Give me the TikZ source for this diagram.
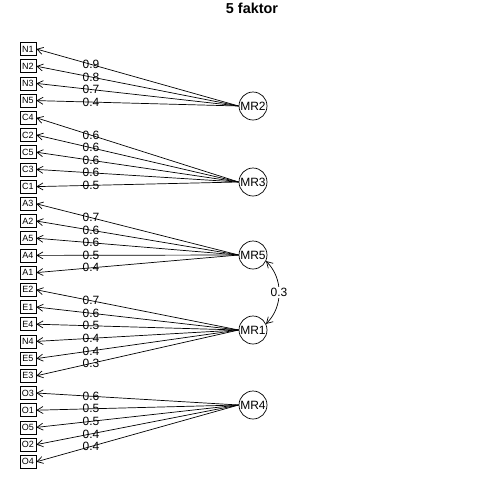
\documentclass[tikz,border=0pt]{standalone}
\usepackage{fontspec}
\setmainfont{Liberation Sans}
\usetikzlibrary{arrows.meta}
\tikzset{
  var/.style={draw,line width=0.7pt,minimum width=16pt,minimum height=13pt,inner sep=1pt,font=\fontsize{9}{9}\selectfont},
  fac/.style={draw,line width=0.7pt,circle,minimum size=28pt,inner sep=0pt,font=\fontsize{12}{12}\selectfont},
  load/.style={pos=0.73,font=\fontsize{12}{12}\selectfont,inner sep=0pt}
}
\begin{document}
\begin{tikzpicture}[x=1pt,y=-1pt,>={Straight Barb[length=6pt,width=7pt]},line width=0.7pt]
	\useasboundingbox (0,0) rectangle (504,504);

	\node[font=\bfseries\fontsize{14.4}{16}\selectfont] (title) at (252,8) {5 faktor};

	% variables
	\node[var] (N1) at (28,49.0)  {N1};
	\node[var] (N2) at (28,66.2)  {N2};
	\node[var] (N3) at (28,83.4)  {N3};
	\node[var] (N5) at (28,100.6) {N5};
	\node[var] (C4) at (28,117.8) {C4};
	\node[var] (C2) at (28,135.0) {C2};
	\node[var] (C5) at (28,152.2) {C5};
	\node[var] (C3) at (28,169.4) {C3};
	\node[var] (C1) at (28,186.6) {C1};
	\node[var] (A3) at (28,203.8) {A3};
	\node[var] (A2) at (28,221.0) {A2};
	\node[var] (A5) at (28,238.2) {A5};
	\node[var] (A4) at (28,255.4) {A4};
	\node[var] (A1) at (28,272.6) {A1};
	\node[var] (E2) at (28,289.8) {E2};
	\node[var] (E1) at (28,307.0) {E1};
	\node[var] (E4) at (28,324.2) {E4};
	\node[var] (N4) at (28,341.4) {N4};
	\node[var] (E5) at (28,358.6) {E5};
	\node[var] (E3) at (28,375.8) {E3};
	\node[var] (O3) at (28,393.0) {O3};
	\node[var] (O1) at (28,410.2) {O1};
	\node[var] (O5) at (28,427.4) {O5};
	\node[var] (O2) at (28,444.6) {O2};
	\node[var] (O4) at (28,461.8) {O4};

	% factors
	\node[fac] (MR2) at (253,106) {MR2};
	\node[fac] (MR3) at (253,182) {MR3};
	\node[fac] (MR5) at (253,255) {MR5};
	\node[fac] (MR1) at (253,330) {MR1};
	\node[fac] (MR4) at (253,405) {MR4};

	% loadings
	\draw[->] (MR2.west) -- node[load] {0.9} (N1.east);
	\draw[->] (MR2.west) -- node[load] {0.8} (N2.east);
	\draw[->] (MR2.west) -- node[load] {0.7} (N3.east);
	\draw[->] (MR2.west) -- node[load] {0.4} (N5.east);

	\draw[->] (MR3.west) -- node[load] {0.6} (C4.east);
	\draw[->] (MR3.west) -- node[load] {0.6} (C2.east);
	\draw[->] (MR3.west) -- node[load] {0.6} (C5.east);
	\draw[->] (MR3.west) -- node[load] {0.6} (C3.east);
	\draw[->] (MR3.west) -- node[load] {0.5} (C1.east);

	\draw[->] (MR5.west) -- node[load] {0.7} (A3.east);
	\draw[->] (MR5.west) -- node[load] {0.6} (A2.east);
	\draw[->] (MR5.west) -- node[load] {0.6} (A5.east);
	\draw[->] (MR5.west) -- node[load] {0.5} (A4.east);
	\draw[->] (MR5.west) -- node[load] {0.4} (A1.east);

	\draw[->] (MR1.west) -- node[load] {0.7} (E2.east);
	\draw[->] (MR1.west) -- node[load] {0.6} (E1.east);
	\draw[->] (MR1.west) -- node[load] {0.5} (E4.east);
	\draw[->] (MR1.west) -- node[load] {0.4} (N4.east);
	\draw[->] (MR1.west) -- node[load] {0.4} (E5.east);
	\draw[->] (MR1.west) -- node[load] {0.3} (E3.east);

	\draw[->] (MR4.west) -- node[load] {0.6} (O3.east);
	\draw[->] (MR4.west) -- node[load] {0.5} (O1.east);
	\draw[->] (MR4.west) -- node[load] {0.5} (O5.east);
	\draw[->] (MR4.west) -- node[load] {0.4} (O2.east);
	\draw[->] (MR4.west) -- node[load] {0.4} (O4.east);

	% correlation
	\draw[<->] (MR5.-25) to[bend left=45] node[fill=white,inner sep=1pt,font=\fontsize{12}{12}\selectfont] {0.3} (MR1.25);
\end{tikzpicture}
\end{document}
